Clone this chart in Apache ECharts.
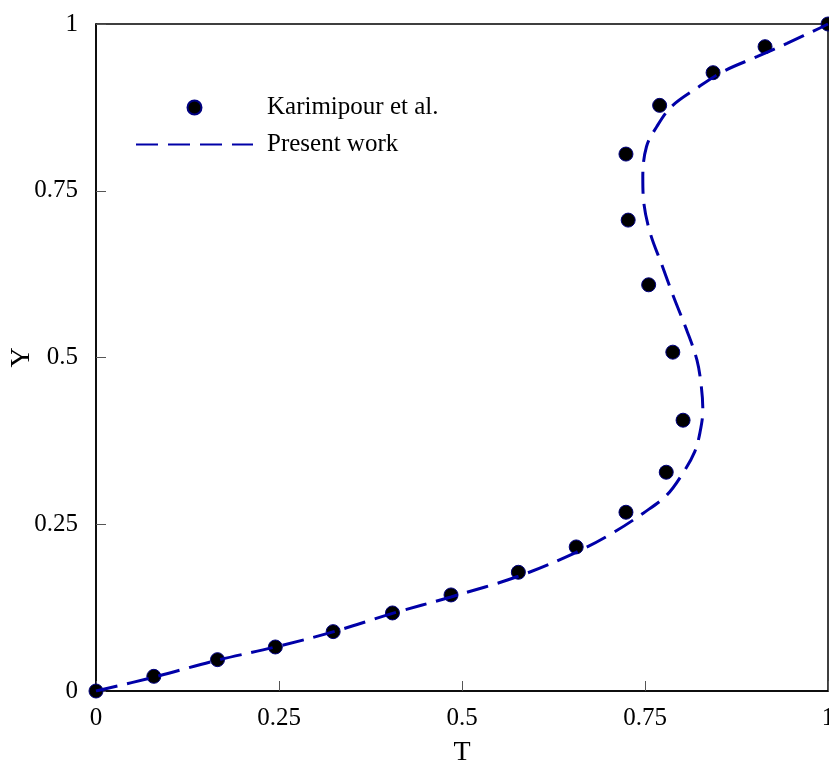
<!DOCTYPE html>
<html>
<head>
<meta charset="utf-8">
<script src="https://cdn.jsdelivr.net/npm/echarts@6/dist/echarts.min.js"></script>
<style>
  html, body { margin: 0; padding: 0; background: #fff; }
  #chart { width: 829px; height: 765px; }
</style>
</head>
<body>
<div id="chart"></div>
<script>
// Reference measurements (Karimipour et al.)
const refT = [0, 0.079, 0.166, 0.245, 0.324, 0.405, 0.485, 0.577, 0.656, 0.724, 0.779, 0.802, 0.788, 0.755, 0.727, 0.724, 0.770, 0.843, 0.914, 1.0];
const refY = [0, 0.022, 0.047, 0.066, 0.089, 0.117, 0.144, 0.178, 0.216, 0.268, 0.328, 0.406, 0.508, 0.609, 0.706, 0.805, 0.878, 0.927, 0.966, 1.0];

// Present work profile
const curveT = [0, 0.08, 0.165, 0.245, 0.325, 0.404, 0.485, 0.577, 0.656, 0.706, 0.748, 0.780, 0.802, 0.818, 0.825, 0.829, 0.827, 0.821, 0.807, 0.789, 0.773, 0.757, 0.748, 0.747, 0.752, 0.766, 0.786, 0.821, 0.857, 0.903, 0.944, 0.989, 1.0];
const curveY = [0, 0.021, 0.046, 0.066, 0.089, 0.116, 0.141, 0.172, 0.208, 0.237, 0.267, 0.294, 0.327, 0.359, 0.387, 0.421, 0.456, 0.496, 0.541, 0.591, 0.639, 0.687, 0.736, 0.771, 0.816, 0.846, 0.876, 0.904, 0.929, 0.951, 0.971, 0.994, 1.0];

const axisTicks = [0, 0.25, 0.5, 0.75, 1];

const seriesNames = ['Karimipour et al.', 'Present work'];

const serif = 'Liberation Serif';
const lineBlue = '#0000a8';

const chart = echarts.init(document.getElementById('chart'), null, { renderer: 'canvas' });

const zip = (a, b) => a.map((v, i) => [v, b[i]]);

const axisCommon = {
  type: 'value',
  min: axisTicks[0],
  max: axisTicks[axisTicks.length - 1],
  interval: axisTicks[1] - axisTicks[0],
  splitLine: { show: false },
  axisLine: { show: true, lineStyle: { color: '#000', width: 1.5 } },
  axisTick: { show: true, inside: true, length: 10, lineStyle: { color: '#555', width: 1 } },
  axisLabel: { color: '#000', fontFamily: serif, fontSize: 25 },
  nameLocation: 'middle',
  nameMoveOverlap: false,
  nameTextStyle: { color: '#000', fontFamily: serif, fontSize: 28 }
};

chart.setOption({
  animation: false,
  backgroundColor: '#fff',
  grid: {
    left: 96, right: 1, top: 24, bottom: 74,
    containLabel: false,
    outerBoundsMode: 'none',
    show: true, borderColor: '#000', borderWidth: 1.5, backgroundColor: 'transparent'
  },
  legend: {
    data: [
      { name: seriesNames[0] },
      { name: seriesNames[1], itemStyle: { color: 'transparent', borderWidth: 0, opacity: 0 } }
    ],
    orient: 'vertical',
    left: 130,
    top: 90,
    itemWidth: 117,
    itemHeight: 14,
    itemGap: 12,
    textStyle: { color: '#000', fontFamily: serif, fontSize: 25, padding: [0, 0, 0, 9] }
  },
  xAxis: Object.assign({}, axisCommon, {
    name: 'T',
    nameGap: 48,
    axisLabel: Object.assign({}, axisCommon.axisLabel, { margin: 15 })
  }),
  yAxis: Object.assign({}, axisCommon, {
    name: 'Y',
    nameGap: 74,
    nameRotate: 90,
    nameTextStyle: Object.assign({}, axisCommon.nameTextStyle, { verticalAlign: 'middle' }),
    axisLabel: Object.assign({}, axisCommon.axisLabel, { margin: 18 })
  }),
  series: [
    {
      name: seriesNames[0],
      type: 'scatter',
      data: zip(refT, refY),
      symbol: 'circle',
      symbolSize: 14,
      itemStyle: { color: '#000', borderColor: '#000080', borderWidth: 1, opacity: 1 },
      z: 2
    },
    {
      name: seriesNames[1],
      type: 'line',
      data: zip(curveT, curveY),
      smooth: 0.35,
      showSymbol: false,
      lineStyle: { color: lineBlue, width: 3, type: [22, 10] },
      itemStyle: { color: lineBlue },
      z: 3
    }
  ]
});
</script>
</body>
</html>
